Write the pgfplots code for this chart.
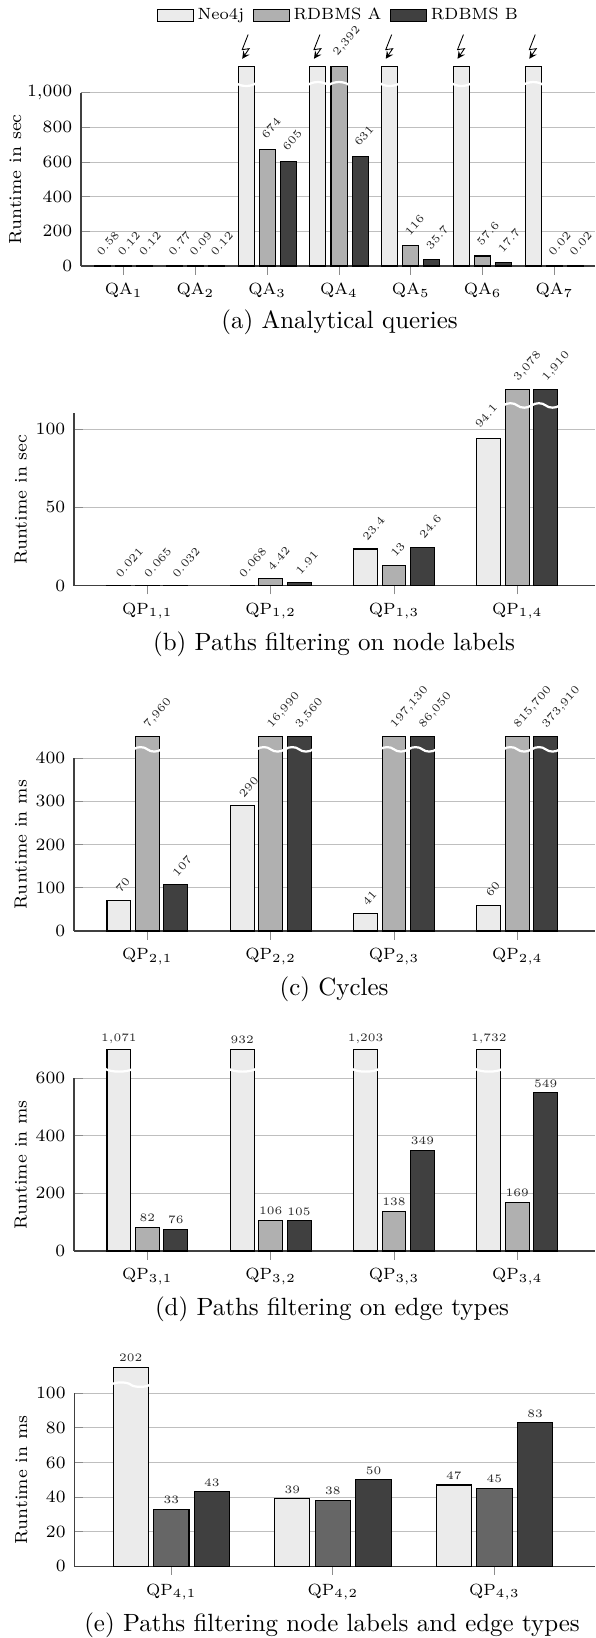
\documentclass[border=0pt]{standalone}
\usepackage{pgfplots}
\pgfplotsset{compat=1.18}
\definecolor{barA}{HTML}{EBEBEB}
\definecolor{barB}{HTML}{B0B0B0}
\definecolor{barC}{HTML}{404040}
\definecolor{barD}{HTML}{666666}
\pgfmathsetlengthmacro{\wa}{514*0.405pt}
\pgfmathsetlengthmacro{\wb}{521*0.405pt}
\pgfmathsetlengthmacro{\ha}{173.3*0.405pt}
\pgfmathsetlengthmacro{\hb}{172.4*0.405pt}
\pgfmathsetlengthmacro{\hc}{173*0.405pt}
\pgfmathsetlengthmacro{\hd}{172.7*0.405pt}
\pgfmathsetlengthmacro{\he}{173*0.405pt}
\protected\def\lft#1{\kern-2.3pt\raisebox{2.3pt}[0pt][0pt]{#1}}
\pgfplotsset{
  base/.style={
    scale only axis, clip=false, ybar,
    axis lines=left, axis line style={-, line width=0.45pt, draw=black!75},
    ymin=0, xtick=data, xtick pos=bottom, ytick pos=left,
    xtick align=outside, ytick align=inside,
    tick style={black!45, line width=0.35pt}, major tick length=3.5pt,
    ymajorgrids, grid style={black!25, line width=0.35pt},
    tick label style={font=\fontsize{6.6}{8}\selectfont},
    label style={font=\fontsize{7.1}{8}\selectfont},
    ylabel={Runtime in sec},
    y label style={at={(axis description cs:-0.102,0.5)}, anchor=center},
    nodes near coords={\pgfplotspointmeta},
    point meta=explicit symbolic,
    every node near coord/.append style={font=\fontsize{4.6}{5}\selectfont, inner sep=2pt, text=black!85},
  },
  rot/.style={every node near coord/.append style={inner sep=0pt, xshift=-0.6pt, yshift=3.8pt, anchor=west, rotate=49}},
  sA/.style={draw=black, fill=barA, bar width=#1, line width=0.42pt},
  sB/.style={draw=black, fill=barB, bar width=#1, line width=0.42pt},
  sC/.style={draw=black, fill=barC, bar width=#1, line width=0.42pt},
  sD/.style={draw=black, fill=barD, bar width=#1, line width=0.42pt},
}
% white breaks across a bar: centre x (axis cs), shift, half width, y (axis cs)
\newcommand{\brk}[4]{%
  \draw[white, line width=0.9pt]
    ([xshift=#2-#3-0.6pt]axis cs:#1,#4) .. controls +(1.3pt,1.2pt) and +(-1.3pt,1.2pt) ..
    ([xshift=#2]axis cs:#1,#4) .. controls +(1.3pt,-1.2pt) and +(-1.3pt,-1.2pt) ..
    ([xshift=#2+#3+0.6pt]axis cs:#1,#4);}
\newcommand{\brkd}[4]{%
  \draw[white, line width=0.9pt]
    ([xshift=#2-#3-0.6pt,yshift=0.4pt]axis cs:#1,#4) .. controls +(2pt,-1.6pt) and +(-2pt,-1.6pt) ..
    ([xshift=#2+#3+0.6pt,yshift=0.4pt]axis cs:#1,#4);}
\newcommand{\brkh}[4]{%
  \draw[white, line width=0.9pt]
    ([xshift=#2-#3-0.6pt,yshift=-0.4pt]axis cs:#1,#4) .. controls +(2pt,1.6pt) and +(-2pt,1.6pt) ..
    ([xshift=#2+#3+0.6pt,yshift=-0.4pt]axis cs:#1,#4);}
\newcommand{\bolt}[2]{%
  \draw[black, line width=0.35pt, ->, >=stealth]
    ([xshift=#2+0.8pt,yshift=13pt]axis cs:#1,1150) -- ([xshift=#2-1.6pt,yshift=6.9pt]axis cs:#1,1150) --
    ([xshift=#2+1.2pt,yshift=7.3pt]axis cs:#1,1150) -- ([xshift=#2-1.6pt,yshift=3.2pt]axis cs:#1,1150);}
\newcommand{\capt}[3]{\node[font=\fontsize{10.1}{12}\selectfont, anchor=base] at (#1*0.405pt,{(1638-#2)*0.405pt}) {#3};}
\begin{document}
\begin{tikzpicture}
\useasboundingbox (0,0) rectangle (240.98pt,663.39pt);
% ---------- (a)
\begin{axis}[base, rot, every node near coord/.append style={yshift=1.4pt}, at={(81*0.405pt,{(1638-266)*0.405pt})}, anchor=south west,
  width=\wa, height=\ha, xmin=-0.595, xmax=6.566, ymax=1000,
  y label style={at={(axis description cs:-0.128,0.5)}},
  ytick={0,200,400,600,800,1000}, yticklabels={$0$,$200$,$400$,$600$,$800$,$1{,}000$},
  xticklabels={QA$_1$,QA$_2$,QA$_3$,QA$_4$,QA$_5$,QA$_6$,QA$_7$},
  y filter/.expression={y>1150 ? 1150 : y},
  legend columns=3,
  legend style={at={(0.5,1)}, anchor=south, yshift=26pt, xshift=0.7pt, draw=none, fill=none, font=\fontsize{6.6}{8}\selectfont, inner sep=0pt,
    /tikz/every odd column/.style={column sep=-0.4pt},
    /tikz/every even column/.style={column sep=1.5pt}},
  legend image code/.code={\draw[#1] (0pt,-2.4pt) rectangle (14.6pt,2.4pt);},
  ]
\addplot+[sA=6.5pt, bar shift=-8.55pt] coordinates {(0,0.58)[0.58] (1,0.77)[0.77] (2,5000)[] (3,5000)[] (4,5000)[] (5,5000)[] (6,5000)[]};
\addplot+[sB=6.5pt, bar shift=0pt] coordinates {(0,0.12)[0.12] (1,0.09)[0.09] (2,674)[674] (3,2392)[2,392] (4,116)[116] (5,57.6)[57.6] (6,0.02)[0.02]};
\addplot+[sC=6.5pt, bar shift=8.55pt] coordinates {(0,0.12)[0.12] (1,0.12)[0.12] (2,605)[605] (3,631)[631] (4,35.7)[35.7] (5,17.7)[17.7] (6,0.02)[0.02]};
\legend{Neo4j,RDBMS A,RDBMS B}
\foreach \i in {2,3,4,5,6} {\edef\tmp{\noexpand\bolt{\i}{-8.55pt}}\tmp}
\brkd{2}{-8.55pt}{3.45pt}{1050}
\brkh{3}{-8.55pt}{3.45pt}{1050}
\brkh{3}{0pt}{3.45pt}{1050}
\brkd{4}{-8.55pt}{3.45pt}{1050}
\brkd{5}{-8.55pt}{3.45pt}{1050}
\brkh{6}{-8.55pt}{3.45pt}{1050}
\end{axis}
% ---------- (b)
\begin{axis}[base, rot, at={(74*0.405pt,{(1638-585.7)*0.405pt})}, anchor=south west,
  width=\wb, height=\hb, xmin=-0.595, xmax=3.63, ymax=110,
  ytick={0,50,100}, xticklabels={QP$_{1{,}1}$,QP$_{1{,}2}$,QP$_{1{,}3}$,QP$_{1{,}4}$},
  y filter/.expression={y>125 ? 125 : y}]
\addplot+[sA=9.7pt, bar shift=-11.5pt] coordinates {(0,0.021)[0.021] (1,0.068)[0.068] (2,23.4)[23.4] (3,94.1)[\lft{94.1}]};
\addplot+[sB=9.7pt, bar shift=0pt] coordinates {(0,0.065)[0.065] (1,4.42)[4.42] (2,13)[13] (3,3078)[3,078]};
\addplot+[sC=9.7pt, bar shift=11.5pt] coordinates {(0,0.032)[0.032] (1,1.91)[1.91] (2,24.6)[24.6] (3,1910)[1,910]};
\brk{3}{0pt}{5pt}{115} \brk{3}{11.5pt}{5pt}{115}
\end{axis}
% ---------- (c)
\begin{axis}[base, rot, at={(74*0.405pt,{(1638-931)*0.405pt})}, anchor=south west,
  width=\wb, height=\hc, xmin=-0.595, xmax=3.63, ymax=400, ylabel={Runtime in ms},
  ytick={0,100,200,300,400}, xticklabels={QP$_{2{,}1}$,QP$_{2{,}2}$,QP$_{2{,}3}$,QP$_{2{,}4}$},
  y filter/.expression={y>450 ? 450 : y}]
\addplot+[sA=9.7pt, bar shift=-11.5pt] coordinates {(0,70)[70] (1,290)[290] (2,41)[41] (3,60)[60]};
\addplot+[sB=9.7pt, bar shift=0pt] coordinates {(0,7960)[7,960] (1,16990)[16,990] (2,197130)[197,130] (3,815700)[815,700]};
\addplot+[sC=9.7pt, bar shift=11.5pt] coordinates {(0,107)[107] (1,3560)[3,560] (2,86050)[86,050] (3,373910)[373,910]};
\brk{0}{0pt}{5pt}{420}
\foreach \i in {1,2,3} {\edef\tmp{\noexpand\brk{\i}{0pt}{5pt}{420}\noexpand\brk{\i}{11.5pt}{5pt}{420}}\tmp}
\end{axis}
% ---------- (d)
\begin{axis}[base, at={(74*0.405pt,{(1638-1251)*0.405pt})}, anchor=south west,
  width=\wb, height=\hd, xmin=-0.595, xmax=3.63, ymax=600, ylabel={Runtime in ms},
  ytick={0,200,400,600}, xticklabels={QP$_{3{,}1}$,QP$_{3{,}2}$,QP$_{3{,}3}$,QP$_{3{,}4}$},
  y filter/.expression={y>700 ? 700 : y}]
\addplot+[sA=9.7pt, bar shift=-11.5pt] coordinates {(0,1071)[1,071] (1,932)[932] (2,1203)[1,203] (3,1732)[1,732]};
\addplot+[sB=9.7pt, bar shift=0pt] coordinates {(0,82)[82] (1,106)[106] (2,138)[138] (3,169)[169]};
\addplot+[sC=9.7pt, bar shift=11.5pt] coordinates {(0,76)[76] (1,105)[105] (2,349)[349] (3,549)[549]};
\foreach \i in {0,1,2,3} {\edef\tmp{\noexpand\brkd{\i}{-11.5pt}{5pt}{630}}\tmp}
\end{axis}
% ---------- (e)
\begin{axis}[base, at={(74.4*0.405pt,{(1638-1566.3)*0.405pt})}, anchor=south west,
  width=\wb, height=\he, xmin=-0.6, xmax=2.625, ymax=100, ylabel={Runtime in ms},
  ytick={0,20,40,60,80,100}, xticklabels={QP$_{4{,}1}$,QP$_{4{,}2}$,QP$_{4{,}3}$},
  y filter/.expression={y>115 ? 115 : y}]
\addplot+[sA=14.3pt, bar shift=-16.45pt] coordinates {(0,202)[202] (1,39)[39] (2,47)[47]};
\addplot+[sD=14.3pt, bar shift=0pt] coordinates {(0,33)[33] (1,38)[38] (2,45)[45]};
\addplot+[sC=14.3pt, bar shift=16.45pt] coordinates {(0,43)[43] (1,50)[50] (2,83)[83]};
\brk{0}{-16.45pt}{7.2pt}{105}
\end{axis}
\capt{339.6}{329}{(a) Analytical queries}
\capt{334}{651}{(b) Paths filtering on node labels}
\capt{334}{996}{(c) Cycles}
\capt{332}{1316}{(d) Paths filtering on edge types}
\capt{332}{1631}{(e) Paths filtering node labels and edge types}
\end{tikzpicture}
\end{document}
